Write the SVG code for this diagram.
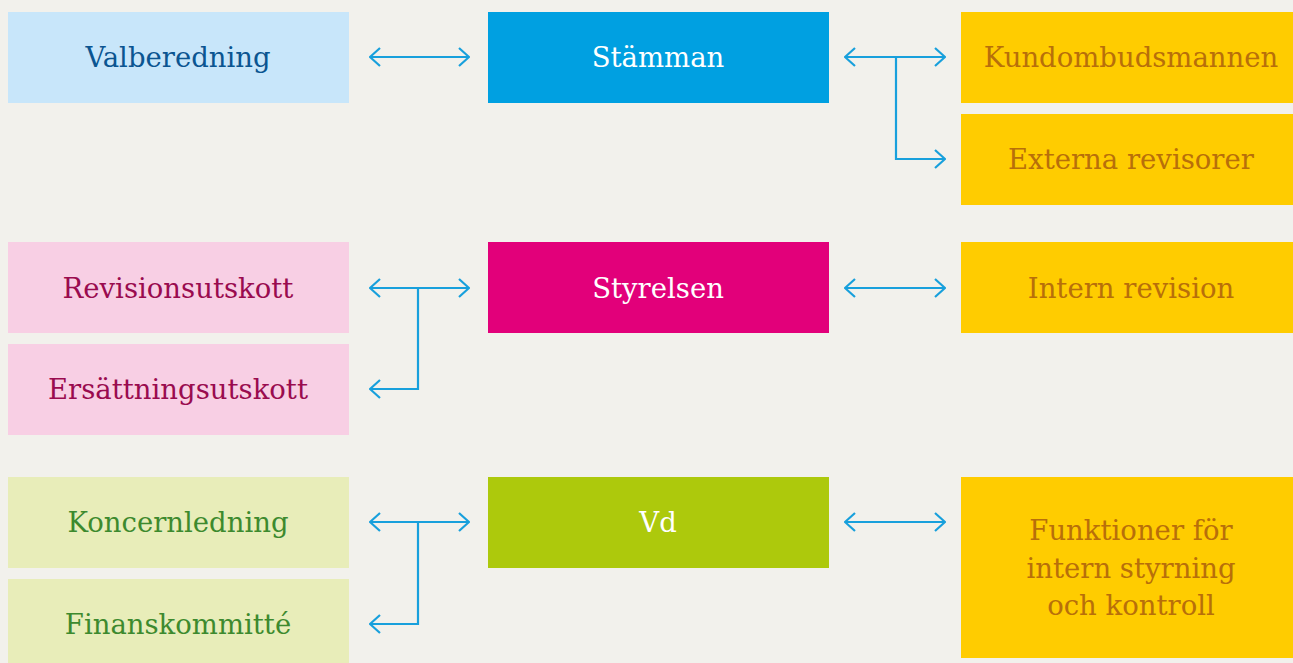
<svg xmlns="http://www.w3.org/2000/svg" width="1293" height="663" viewBox="0 0 1293 663">
  <style>
    .lbl { font-family: "DejaVu Serif", "Liberation Serif", serif; font-size: 27.5px; text-anchor: middle; }
    .blue-lt { fill: #c8e6fa; }
    .blue { fill: #00a0e1; }
    .yellow { fill: #ffcc00; }
    .pink-lt { fill: #f8cfe4; }
    .magenta { fill: #e2007a; }
    .green-lt { fill: #e8edb9; }
    .green { fill: #adc90c; }
    .t-blue { fill: #0b5591; }
    .t-white { fill: #ffffff; }
    .t-amber { fill: #b86f0a; }
    .t-plum { fill: #9a0b4f; }
    .t-green { fill: #3d8a2e; }
    .conn { fill: none; stroke: #18a0dc; stroke-width: 2.2; }
  </style>
  <defs>
    <marker id="chev" viewBox="0 0 12 20" refX="11" refY="10" markerWidth="12" markerHeight="20" markerUnits="userSpaceOnUse" orient="auto-start-reverse">
      <path d="M1 1 L11 10 L1 19" fill="none" stroke="#18a0dc" stroke-width="2.2"/>
    </marker>
  </defs>
  <rect width="1293" height="663" fill="#f2f1ec"/>

  <g id="valberedning"><rect class="blue-lt" x="8" y="12" width="341" height="91"/><text class="lbl t-blue" x="178" y="67">Valberedning</text></g>
  <g id="stamman"><rect class="blue" x="488" y="12" width="341" height="91"/><text class="lbl t-white" x="658" y="67">Stämman</text></g>
  <g id="kundombudsmannen"><rect class="yellow" x="961" y="12" width="332" height="91"/><text class="lbl t-amber" x="1131" y="67">Kundombudsmannen</text></g>
  <g id="externa-revisorer"><rect class="yellow" x="961" y="114" width="332" height="91"/><text class="lbl t-amber" x="1131" y="169">Externa revisorer</text></g>

  <g id="revisionsutskott"><rect class="pink-lt" x="8" y="242" width="341" height="91"/><text class="lbl t-plum" x="178" y="298">Revisionsutskott</text></g>
  <g id="styrelsen"><rect class="magenta" x="488" y="242" width="341" height="91"/><text class="lbl t-white" x="658" y="298">Styrelsen</text></g>
  <g id="intern-revision"><rect class="yellow" x="961" y="242" width="332" height="91"/><text class="lbl t-amber" x="1131" y="298">Intern revision</text></g>
  <g id="ersattningsutskott"><rect class="pink-lt" x="8" y="344" width="341" height="91"/><text class="lbl t-plum" x="178" y="399">Ersättningsutskott</text></g>

  <g id="koncernledning"><rect class="green-lt" x="8" y="477" width="341" height="91"/><text class="lbl t-green" x="178" y="532">Koncernledning</text></g>
  <g id="vd"><rect class="green" x="488" y="477" width="341" height="91"/><text class="lbl t-white" x="658" y="532">Vd</text></g>
  <g id="funktioner"><rect class="yellow" x="961" y="477" width="332" height="181"/>
    <text class="lbl t-amber" x="1131" y="540">Funktioner för</text>
    <text class="lbl t-amber" x="1131" y="578">intern styrning</text>
    <text class="lbl t-amber" x="1131" y="615">och kontroll</text>
  </g>
  <g id="finanskommitte"><rect class="green-lt" x="8" y="579" width="341" height="84"/><text class="lbl t-green" x="178" y="634">Finanskommitté</text></g>

  <g id="connectors">
    <path class="conn" d="M370 57 H469" marker-start="url(#chev)" marker-end="url(#chev)"/>
    <path class="conn" d="M845 57 H945" marker-start="url(#chev)" marker-end="url(#chev)"/>
    <path class="conn" d="M896 57 V159 H945" marker-end="url(#chev)"/>

    <path class="conn" d="M370 288 H469" marker-start="url(#chev)" marker-end="url(#chev)"/>
    <path class="conn" d="M418 288 V389 H370" marker-end="url(#chev)"/>
    <path class="conn" d="M845 288 H945" marker-start="url(#chev)" marker-end="url(#chev)"/>

    <path class="conn" d="M370 522 H469" marker-start="url(#chev)" marker-end="url(#chev)"/>
    <path class="conn" d="M418 522 V624 H370" marker-end="url(#chev)"/>
    <path class="conn" d="M845 522 H945" marker-start="url(#chev)" marker-end="url(#chev)"/>
  </g>
</svg>
